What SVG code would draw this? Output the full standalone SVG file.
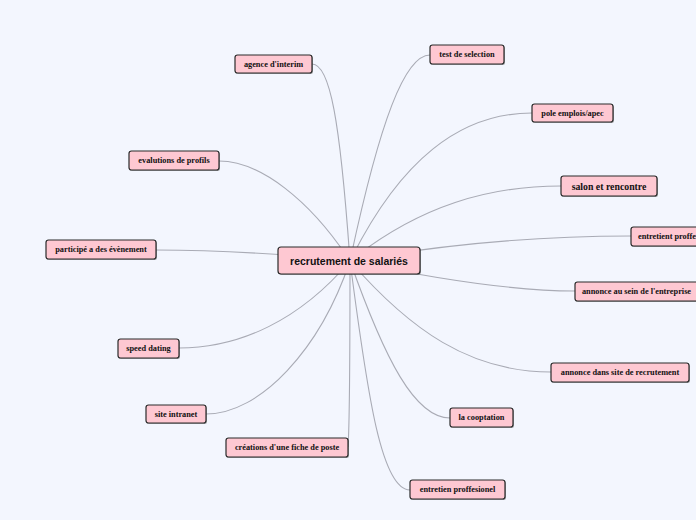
<svg xmlns="http://www.w3.org/2000/svg" width="696" height="520" viewBox="0 0 696 520">
<defs>
<style>
.n rect.b{fill:#fec8d2;stroke:#2a2a2a;stroke-width:1.2}
.n rect.s{fill:#555;opacity:0.5}
.n text{font-family:"Liberation Serif","Times New Roman",serif;font-weight:bold;font-size:8.3px;fill:#111;text-anchor:middle;dominant-baseline:central}
.n text.c{font-family:"Liberation Sans",Arial,sans-serif;font-size:10.5px}
.n text.m{font-size:9.8px}
#links path{fill:none;stroke:#a9abb5;stroke-width:1.1}
</style>
</defs>
<rect width="696" height="520" fill="#f3f6fe"/>
<g id="links">
<path d="M350,261 C340,120 330,64 312,64"/>
<path d="M350,261 C380,120 405,55 430,55"/>
<path d="M350,261 C400,160 460,113 532,113"/>
<path d="M350,261 C420,205 490,186 561,186"/>
<path d="M350,261 C450,243 550,236 631,236"/>
<path d="M350,261 C450,282 520,291 575,291"/>
<path d="M350,261 C410,330 470,372 551,372"/>
<path d="M350,261 C385,360 415,418 450,418"/>
<path d="M350,261 C368,400 382,490 410,490"/>
<path d="M350,261 C350,350 350,420 348,447"/>
<path d="M350,261 C320,350 260,414 206,414"/>
<path d="M350,261 C300,320 240,348 179,348"/>
<path d="M350,261 C300,255 220,250 156,250"/>
<path d="M350,261 C310,200 260,161 219,161"/>
</g>
<g id="center" class="n"><rect class="s" x="279" y="248" width="142" height="27" rx="3"/><rect class="b" x="278" y="247" width="142" height="27" rx="3"/><text class="c" x="349" y="260.5">recrutement de salariés</text></g>
<g id="agence" class="n"><rect class="s" x="236" y="56" width="77" height="18" rx="2.5"/><rect class="b" x="235" y="55" width="77" height="18" rx="2.5"/><text x="273.5" y="64">agence d'interim</text></g>
<g id="test" class="n"><rect class="s" x="431" y="46" width="74" height="19" rx="2.5"/><rect class="b" x="430" y="45" width="74" height="19" rx="2.5"/><text x="467" y="54.5">test de selection</text></g>
<g id="pole" class="n"><rect class="s" x="533" y="105" width="81" height="18" rx="2.5"/><rect class="b" x="532" y="104" width="81" height="18" rx="2.5"/><text x="572.5" y="113">pole emplois/apec</text></g>
<g id="salon" class="n"><rect class="s" x="562" y="177" width="96" height="20" rx="2.5"/><rect class="b" x="561" y="176" width="96" height="20" rx="2.5"/><text class="m" x="609" y="186">salon et rencontre</text></g>
<g id="entretient" class="n"><rect class="s" x="632" y="228" width="110" height="19" rx="2.5"/><rect class="b" x="631" y="227" width="110" height="19" rx="2.5"/><text x="638" y="236.5" style="text-anchor:start">entretient proffesionel</text></g>
<g id="annonce-sein" class="n"><rect class="s" x="576" y="283" width="124" height="19" rx="2.5"/><rect class="b" x="575" y="282" width="124" height="19" rx="2.5"/><text x="636.5" y="291.5">annonce au sein de l'entreprise</text></g>
<g id="annonce-site" class="n"><rect class="s" x="552" y="364" width="138" height="19" rx="2.5"/><rect class="b" x="551" y="363" width="138" height="19" rx="2.5"/><text x="620" y="372.5">annonce dans site de recrutement</text></g>
<g id="cooptation" class="n"><rect class="s" x="451" y="409" width="63" height="19" rx="2.5"/><rect class="b" x="450" y="408" width="63" height="19" rx="2.5"/><text x="481.5" y="417.5">la cooptation</text></g>
<g id="entretien" class="n"><rect class="s" x="411" y="481" width="95" height="19" rx="2.5"/><rect class="b" x="410" y="480" width="95" height="19" rx="2.5"/><text x="457.5" y="489.5">entretien proffesionel</text></g>
<g id="fiche" class="n"><rect class="s" x="227" y="439" width="122" height="19" rx="2.5"/><rect class="b" x="226" y="438" width="122" height="19" rx="2.5"/><text x="287" y="447.5">créations d'une fiche de poste</text></g>
<g id="intranet" class="n"><rect class="s" x="147" y="406" width="60" height="18" rx="2.5"/><rect class="b" x="146" y="405" width="60" height="18" rx="2.5"/><text x="176" y="414">site intranet</text></g>
<g id="speed" class="n"><rect class="s" x="119" y="340" width="61" height="19" rx="2.5"/><rect class="b" x="118" y="339" width="61" height="19" rx="2.5"/><text x="148.5" y="348.5">speed dating</text></g>
<g id="participe" class="n"><rect class="s" x="47" y="241" width="110" height="19" rx="2.5"/><rect class="b" x="46" y="240" width="110" height="19" rx="2.5"/><text x="101" y="249.5">participé a des évènement</text></g>
<g id="evalutions" class="n"><rect class="s" x="130" y="152" width="90" height="19" rx="2.5"/><rect class="b" x="129" y="151" width="90" height="19" rx="2.5"/><text x="174" y="160.5">evalutions de profils</text></g>
</svg>
